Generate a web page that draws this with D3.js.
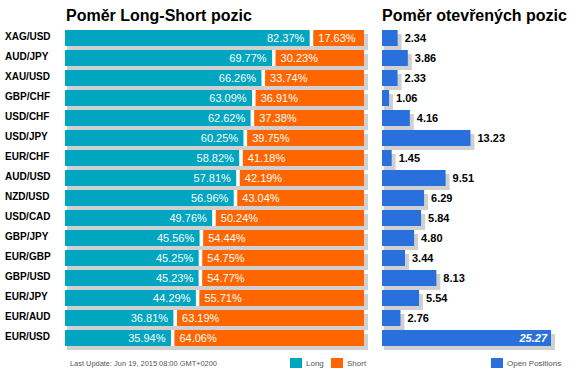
<!DOCTYPE html>
<html><head><meta charset="utf-8">
<script src="https://cdn.jsdelivr.net/npm/d3@7/dist/d3.min.js"></script>
<style>body{margin:0;background:#fff}svg{display:block}text{font-family:Arial,"Liberation Sans",sans-serif}</style>
</head><body>
<script>
const categories = ["XAG/USD","AUD/JPY","XAU/USD","GBP/CHF","USD/CHF","USD/JPY","EUR/CHF","AUD/USD","NZD/USD","USD/CAD","GBP/JPY","EUR/GBP","GBP/USD","EUR/JPY","EUR/AUD","EUR/USD"];
const longPct = [82.37,69.77,66.26,63.09,62.62,60.25,58.82,57.81,56.96,49.76,45.56,45.25,45.23,44.29,36.81,35.94];
const shortPct = [17.63,30.23,33.74,36.91,37.38,39.75,41.18,42.19,43.04,50.24,54.44,54.75,54.77,55.71,63.19,64.06];
const openPos = [2.34,3.86,2.33,1.06,4.16,13.23,1.45,9.51,6.29,5.84,4.80,3.44,8.13,5.54,2.76,25.27];

const W=585,H=385;
const svg=d3.select("body").append("svg").attr("width",W).attr("height",H);
const teal="#00a5bf", orange="#ff6600", blue="#2a70dc", shade="#d0d0d0";

const yb=d3.scaleBand().domain(categories).range([30,350]);
const bh=16;
const xL=d3.scaleLinear().domain([0,100]).range([65,364]);
const xR=d3.scaleLinear().domain([0,25.27]).range([382,551]);

// titles
svg.append("text").attr("x",66).attr("y",21).attr("font-size",16).attr("font-weight","bold").attr("fill","#000").text("Poměr Long-Short pozic");
svg.append("text").attr("x",382).attr("y",21).attr("font-size",16).attr("font-weight","bold").attr("fill","#000").text("Poměr otevřených pozic");

const rows=svg.append("g").selectAll("g").data(categories).join("g");
// category labels
rows.append("text").attr("x",5).attr("y",d=>yb(d)+10).attr("font-size",10).attr("font-weight","bold").attr("fill","#000").text(d=>d);
// left shadows
rows.append("rect").attr("x",xL(0)+2).attr("y",d=>yb(d)+4).attr("width",xL(100)-xL(0)+2).attr("height",bh).attr("fill",shade);
// long bars
rows.append("rect").attr("x",xL(0)).attr("y",d=>yb(d)).attr("width",(d,i)=>xL(longPct[i])-xL(0)-1.5).attr("height",bh).attr("fill",teal);
// separator
rows.append("rect").attr("x",(d,i)=>xL(longPct[i])-1.5).attr("y",d=>yb(d)).attr("width",3.5).attr("height",bh).attr("fill","#fff");
// short bars
rows.append("rect").attr("x",(d,i)=>xL(longPct[i])+2).attr("y",d=>yb(d)).attr("width",(d,i)=>xL(100)-xL(longPct[i])-2).attr("height",bh).attr("fill",orange);
rows.append("text").attr("x",(d,i)=>xL(longPct[i])-7).attr("y",d=>yb(d)+12).attr("text-anchor","end").attr("font-size",11).attr("fill","#fff").text((d,i)=>longPct[i].toFixed(2)+"%");
rows.append("text").attr("x",(d,i)=>xL(longPct[i])+7).attr("y",d=>yb(d)+12).attr("font-size",11).attr("fill","#fff").text((d,i)=>shortPct[i].toFixed(2)+"%");

// right bars
rows.append("rect").attr("x",xR(0)+2).attr("y",d=>yb(d)+4).attr("width",(d,i)=>xR(openPos[i])-xR(0)+2).attr("height",bh).attr("fill",shade);
rows.append("rect").attr("x",xR(0)).attr("y",d=>yb(d)).attr("width",(d,i)=>xR(openPos[i])-xR(0)).attr("height",bh).attr("fill",blue);
const maxV=d3.max(openPos);
rows.append("text")
 .attr("x",(d,i)=>openPos[i]===maxV?xR(openPos[i])-4:xR(openPos[i])+7)
 .attr("y",d=>yb(d)+12)
 .attr("text-anchor",(d,i)=>openPos[i]===maxV?"end":"start")
 .attr("font-size",11).attr("font-weight","bold")
 .attr("font-style",(d,i)=>openPos[i]===maxV?"italic":"normal")
 .attr("fill",(d,i)=>openPos[i]===maxV?"#fff":"#000")
 .text((d,i)=>openPos[i].toFixed(2));

// footer
const ft=svg.append("g").attr("font-size",8).attr("fill","#555");
ft.append("text").attr("x",70).attr("y",366).attr("textLength",147).attr("lengthAdjust","spacingAndGlyphs").text("Last Update: Jun 19, 2015 08:00 GMT+0200");
const legend=[{c:teal,t:"Long",x:290},{c:orange,t:"Short",x:331},{c:blue,t:"Open Positions",x:491}];
legend.forEach(l=>{
  svg.append("rect").attr("x",l.x).attr("y",358).attr("width",12).attr("height",10).attr("fill",l.c);
  ft.append("text").attr("x",l.x+16).attr("y",366).text(l.t);
});
</script>
</body></html>
